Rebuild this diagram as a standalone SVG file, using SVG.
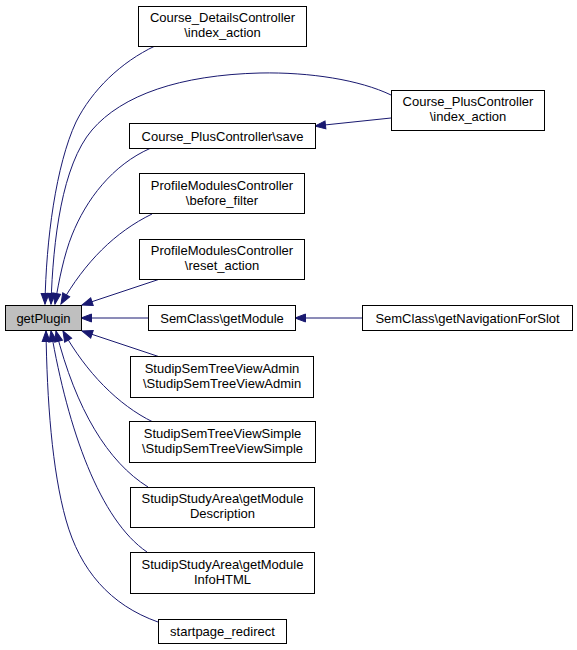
<svg xmlns="http://www.w3.org/2000/svg" width="577" height="650" viewBox="0 0 577 650">
<defs>
<style>
.n rect{fill:#fff;stroke:#000;stroke-width:1}
.n text{font-family:"Liberation Sans",Arial,Helvetica,sans-serif;font-size:13px;fill:#000;text-anchor:middle}
#edges path{fill:none;stroke:#191970;stroke-width:1;marker-end:url(#ah)}
</style>
<marker id="ah" markerUnits="userSpaceOnUse" markerWidth="14" markerHeight="12" refX="11.5" refY="5" orient="auto">
<path d="M1,1 L11.5,5 L1,9 z" fill="#191970" stroke="#191970" stroke-width="1"/>
</marker>
</defs>
<rect width="577" height="650" fill="#fff"/>
<g id="edges">
<path d="M155,46 C121,62 92,90 76,122 C56,165 46,240 45,304"/>
<path d="M391,95 C360,80 310,72 260,73 C180,75 122,95 92,130 C62,165 53,240 51,304"/>
<path d="M151,148 C112,165 86,200 72,235 C64,255 59,280 55,304"/>
<path d="M152,214 C115,232 85,262 61,304"/>
<path d="M160,279 L82,305"/>
<path d="M148,318 L81,318"/>
<path d="M160,357 L82,331"/>
<path d="M153,422 C118,405 86,372 63,331"/>
<path d="M148,487 C108,462 76,410 56,331"/>
<path d="M147,552 C100,520 68,430 51,331"/>
<path d="M158,622 C110,605 80,570 66,520 C52,470 47,400 46,331"/>
<path d="M391,118 L315,126"/>
<path d="M362,318 L295,318"/>
</g>
<g id="getPlugin" class="n"><rect x="5.5" y="305.5" width="76" height="25" style="fill:#bfbfbf"/><text x="43.5" y="322.5">getPlugin</text></g>
<g id="course_details" class="n"><rect x="138.5" y="6.5" width="168" height="40"/><text x="222.5" y="22">Course_DetailsController</text><text x="222.5" y="37">\index_action</text></g>
<g id="course_plus_save" class="n"><rect x="129.5" y="123.5" width="186" height="25"/><text x="222.5" y="140.5">Course_PlusController\save</text></g>
<g id="profile_before" class="n"><rect x="139.5" y="173.5" width="165" height="40"/><text x="222" y="189.5">ProfileModulesController</text><text x="222" y="204.5">\before_filter</text></g>
<g id="profile_reset" class="n"><rect x="139.5" y="239.5" width="165" height="40"/><text x="222" y="255">ProfileModulesController</text><text x="222" y="270">\reset_action</text></g>
<g id="semclass_getmodule" class="n"><rect x="148.5" y="305.5" width="147" height="25"/><text x="222" y="322.5">SemClass\getModule</text></g>
<g id="tree_admin" class="n"><rect x="130.5" y="356.5" width="183" height="41"/><text x="222" y="372.5">StudipSemTreeViewAdmin</text><text x="222" y="387.5">\StudipSemTreeViewAdmin</text></g>
<g id="tree_simple" class="n"><rect x="129.5" y="421.5" width="186" height="41"/><text x="222.5" y="437.5">StudipSemTreeViewSimple</text><text x="222.5" y="452.5">\StudipSemTreeViewSimple</text></g>
<g id="study_desc" class="n"><rect x="130.5" y="487.5" width="184" height="40"/><text x="222.5" y="503">StudipStudyArea\getModule</text><text x="222.5" y="518">Description</text></g>
<g id="study_info" class="n"><rect x="130.5" y="552.5" width="184" height="41"/><text x="222.5" y="568.5">StudipStudyArea\getModule</text><text x="222.5" y="583.5">InfoHTML</text></g>
<g id="startpage" class="n"><rect x="158.5" y="619.5" width="128" height="24"/><text x="222.5" y="636">startpage_redirect</text></g>
<g id="course_plus_index" class="n"><rect x="391.5" y="90.5" width="153" height="40"/><text x="468" y="106">Course_PlusController</text><text x="468" y="121">\index_action</text></g>
<g id="semclass_nav" class="n"><rect x="362.5" y="305.5" width="210" height="25"/><text x="467.5" y="322.5">SemClass\getNavigationForSlot</text></g>
</svg>
